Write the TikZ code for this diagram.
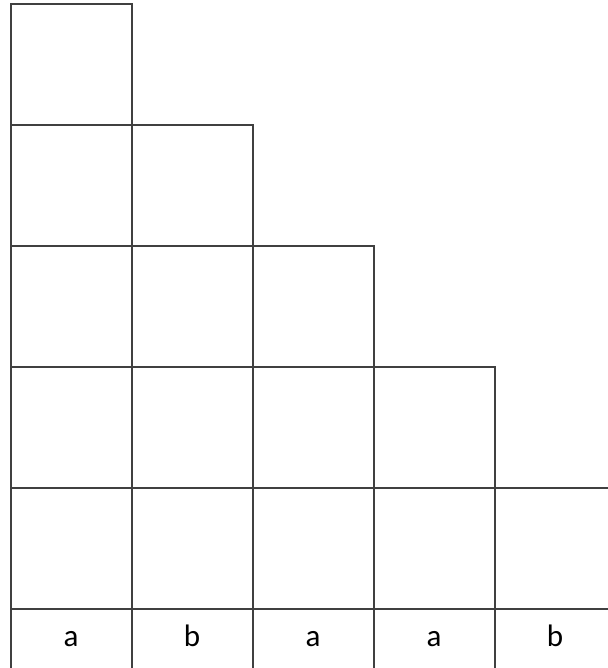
\documentclass[tikz,border=0pt]{standalone}
\usepackage{fontspec}
\setmainfont{Carlito}
\usetikzlibrary{positioning}
\tikzset{
	cell/.style={draw=black!75,line width=0.45pt,minimum size=1cm,inner sep=0pt,outer sep=0pt},
	letter/.style={cell,minimum height=0.5cm,text height=3.6pt,text depth=0pt,
		font=\fontsize{7.3}{9}\selectfont},
}

\begin{document}
\begin{tikzpicture}
	\clip (-0.088,-0.488) rectangle (4.936,5.033);
	% word under the diagram
	\foreach \l [count=\i from 0] in {a,b,a,a,b}
		\node[letter] (w\i) at (\i+0.5,-0.25) {\l};
	% staircase of cells
	\foreach \c in {0,...,4}{
		\pgfmathtruncatemacro\top{4-\c}
		\foreach \r in {0,...,\top}
			\node[cell] (c\c-\r) at (\c+0.5,\r+0.5) {};
	}
\end{tikzpicture}
\end{document}
